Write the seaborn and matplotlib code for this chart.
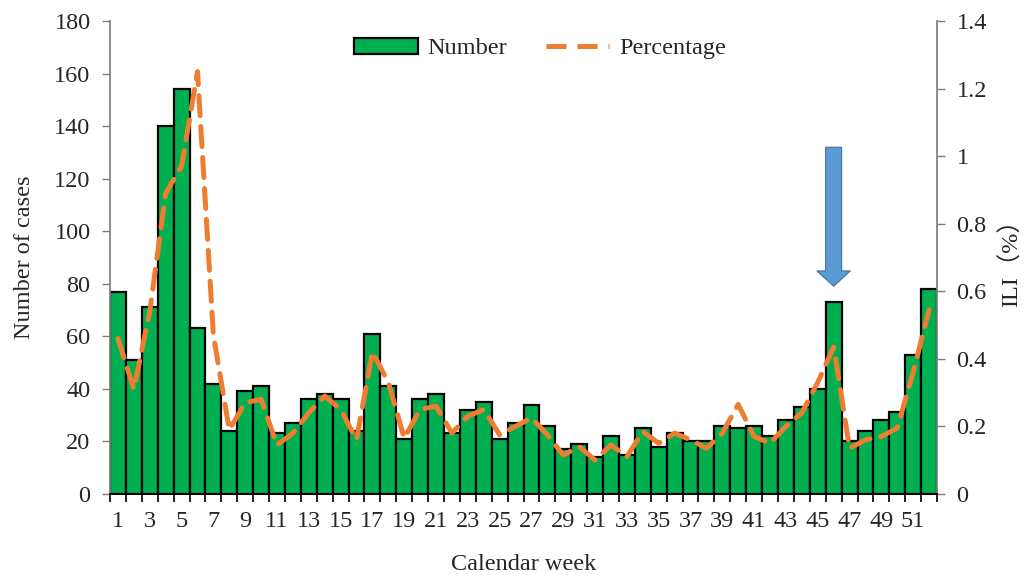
import numpy as np
import pandas as pd
import matplotlib
matplotlib.use("Agg")
import matplotlib.pyplot as plt
import seaborn as sns
from matplotlib.patches import Patch
from matplotlib.lines import Line2D

weeks = list(range(1, 53))
cases = [77, 51, 71, 140, 154, 63, 42, 24, 39, 41,
         23, 27, 36, 38, 36, 24, 61, 41, 21, 36,
         38, 23, 32, 35, 21, 27, 34, 26, 17, 19,
         14, 22, 15, 25, 18, 23, 20, 20, 26, 25,
         26, 22, 28, 33, 40, 73, 20, 24, 28, 31,
         53, 78]
ili_pct = [0.46, 0.31, 0.54, 0.89, 0.97, 1.25, 0.47, 0.19, 0.27, 0.28,
           0.145, 0.18, 0.24, 0.29, 0.25, 0.16, 0.42, 0.33, 0.165, 0.25,
           0.26, 0.18, 0.23, 0.25, 0.175, 0.20, 0.225, 0.175, 0.115, 0.14,
           0.10, 0.145, 0.11, 0.185, 0.15, 0.18, 0.16, 0.135, 0.18, 0.265,
           0.17, 0.15, 0.20, 0.24, 0.33, 0.435, 0.135, 0.16, 0.17, 0.195,
           0.36, 0.545]
arrow_week = 46

df = pd.DataFrame({"week": weeks, "cases": cases, "ili": ili_pct})

sns.set_theme(style="white")
plt.rcParams["font.family"] = ["Liberation Serif", "Noto Sans CJK SC", "DejaVu Sans"]
plt.rcParams["text.color"] = "#262626"
plt.rcParams["axes.labelcolor"] = "#262626"
plt.rcParams["xtick.labelcolor"] = "#262626"
plt.rcParams["ytick.labelcolor"] = "#262626"

GREEN = "#00B050"
ORANGE = "#ED7D31"
GRAY = "#7F7F7F"
FS = 17.5

fig = plt.figure(figsize=(10.28, 5.75), dpi=100)
ax = fig.add_axes([0.107, 0.141, 0.8045, 0.8225])

sns.barplot(data=df, x="week", y="cases", native_scale=True, width=1,
            color=GREEN, saturation=1, edgecolor="black", linewidth=1.6, ax=ax)

ax2 = ax.twinx()
sns.lineplot(data=df, x="week", y="ili", ax=ax2, color=ORANGE, linewidth=3.6,
             dashes=False)
ax2.lines[0].set_dashes((4, 2.2))
ax2.lines[0].set_dash_capstyle("round")

ax.set_xlim(0.5, 52.5)
ax.set_ylim(0, 180)
ax2.set_ylim(0, 1.4)
ax.set_yticks(np.arange(0, 181, 20))
ax2.set_yticks(np.arange(0, 1.41, 0.2))
ax2.set_yticklabels(["0", "0.2", "0.4", "0.6", "0.8", "1", "1.2", "1.4"])

ax.set_xticks(weeks[::2])
ax.set_xticklabels([str(w) for w in weeks[::2]])
ax.set_xticks(np.arange(0.5, 53, 1), minor=True)
ax.tick_params(axis="x", which="major", length=0, labelsize=FS, pad=12)
ax.tick_params(axis="x", which="minor", length=6, width=1.2, color="black",
               direction="out", bottom=True)
ax.tick_params(axis="y", length=6, width=1, color=GRAY, direction="out",
               left=True, labelsize=FS, pad=8)
ax2.tick_params(axis="y", length=6, width=1, color=GRAY, direction="out",
                right=True, labelsize=FS, pad=8)

for a in (ax, ax2):
    a.spines["top"].set_visible(False)
    a.spines["left"].set_color(GRAY)
    a.spines["right"].set_color(GRAY)
    a.spines["bottom"].set_color("black")
    a.spines["bottom"].set_linewidth(1.4)
ax.spines["right"].set_visible(False)
ax2.spines["left"].set_visible(False)

ax.set_xlabel("Calendar week", fontsize=FS, labelpad=16)
ax.set_ylabel("Number of cases", fontsize=FS, labelpad=14)
ax2.set_ylabel("ILI（%）", fontsize=FS, rotation=90, labelpad=9)
ax.grid(False)
ax2.grid(False)

# arrow marking week 46
peak = cases[arrow_week - 1]
ax.annotate("", xy=(arrow_week, peak + 5), xytext=(arrow_week, peak + 60),
            arrowprops=dict(arrowstyle="simple,head_width=2.4,head_length=1.1,tail_width=1.15",
                            mutation_scale=10, fc="#5B9BD5", ec="#41719C", lw=0.8),
            zorder=5)

handles = [Patch(facecolor=GREEN, edgecolor="black", linewidth=1.6, label="Number"),
           Line2D([0], [0], color=ORANGE, linewidth=3.6, dashes=(4, 2.2),
                  label="Percentage")]
ax2.legend(handles=handles, loc="upper center", bbox_to_anchor=(0.52, 1.01),
           ncol=2, frameon=False, fontsize=FS, handlelength=2.6, handleheight=0.6,
           columnspacing=1.6, handletextpad=0.4)

fig.savefig("out.png", dpi=100)
